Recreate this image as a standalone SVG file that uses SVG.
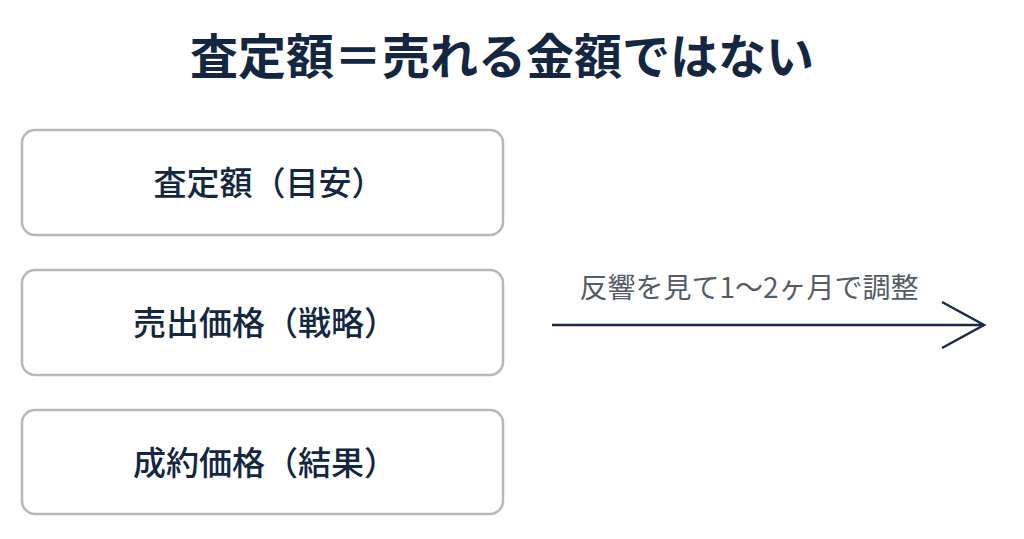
<svg xmlns="http://www.w3.org/2000/svg" width="1024" height="539" viewBox="0 0 1024 539">
<style>
.box{fill:#ffffff;stroke:#b4b7bc;stroke-width:2.5}
.t{font-family:"Noto Sans CJK JP","Noto Sans",sans-serif;fill:#142742;text-anchor:middle}
.lbl{font-family:"Noto Sans CJK JP","Noto Sans",sans-serif;fill:#555b64;font-size:28px;text-anchor:middle}
</style>
<rect width="1024" height="539" fill="#ffffff"/>
<text class="t" x="502" y="74" font-size="48" font-weight="bold">査定額＝売れる金額ではない</text>
<g id="node1">
<rect class="box" x="22" y="130" width="481" height="105" rx="13"/>
<text class="t" x="269" y="195" font-size="33" font-weight="500">査定額（目安）</text>
</g>
<g id="node2">
<rect class="box" x="22" y="270" width="481" height="105" rx="13"/>
<text class="t" x="265" y="335" font-size="33" font-weight="500">売出価格（戦略）</text>
</g>
<g id="node3">
<rect class="box" x="22" y="410" width="481" height="104" rx="13"/>
<text class="t" x="265" y="475" font-size="33" font-weight="500">成約価格（結果）</text>
</g>
<g id="connectors">
<line x1="552" y1="325" x2="984" y2="325" stroke="#1c2b44" stroke-width="2.5"/>
<polyline points="942,302 984,325 942,348" fill="none" stroke="#1c2b44" stroke-width="2.5"/>
<text class="lbl" x="749" y="298">反響を見て1〜2ヶ月で調整</text>
</g>
</svg>
